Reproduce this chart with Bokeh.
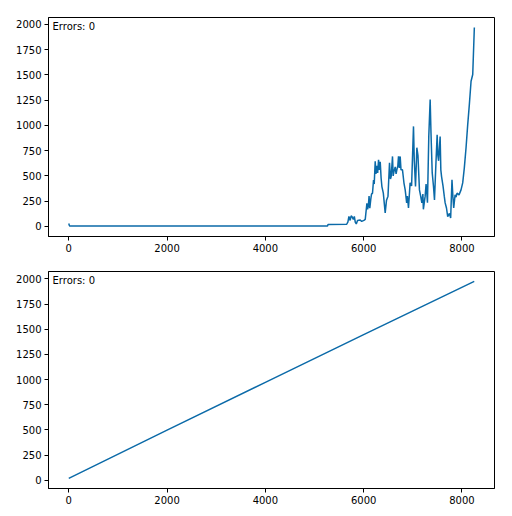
from bokeh.plotting import figure
from bokeh.layouts import column
from bokeh.models import Label, Range1d, FixedTicker
from bokeh.embed import file_html
from bokeh.resources import INLINE

# ---- data ----
top_x = [0, 15, 200, 5265, 5275, 5655, 5680, 5700, 5725, 5745, 5765, 5790, 5810, 5830,
         5850, 5875, 5930, 5960, 6005, 6032, 6066, 6080, 6095, 6110, 6125, 6145, 6160,
         6180, 6201, 6215, 6235, 6250, 6265, 6285, 6303, 6320, 6337, 6355, 6371, 6400,
         6438, 6465, 6495, 6526, 6545, 6560, 6587, 6600, 6615, 6642, 6660, 6675, 6695,
         6709, 6725, 6743, 6760, 6790, 6820, 6845, 6875, 6890, 6912, 6945, 6975, 7014,
         7030, 7055, 7070, 7082, 7105, 7135, 7160, 7184, 7205, 7215, 7251, 7270, 7285,
         7298, 7325, 7353, 7370, 7395, 7420, 7441, 7465, 7495, 7510, 7525, 7556, 7570,
         7585, 7615, 7640, 7658, 7685, 7710, 7745, 7770, 7797, 7815, 7832, 7860, 7880,
         7900, 7940, 7981, 8015, 8048, 8083, 8117, 8150, 8185, 8219, 8252]
top_y = [30, 6, 4, 5, 20, 22, 45, 100, 60, 105, 95, 70, 100, 40,
         25, 60, 65, 50, 60, 70, 230, 170, 200, 300, 180, 270, 320,
         330, 460, 420, 645, 520, 600, 530, 660, 560, 640, 480, 395, 330,
         134, 260, 300, 630, 470, 494, 693, 500, 540, 590, 520, 560, 600,
         693, 580, 693, 560, 560, 430, 362, 233, 300, 183, 431, 400, 990,
         650, 395, 600, 779, 700, 362, 300, 233, 320, 170, 300, 420, 330,
         235, 891, 1255, 925, 530, 400, 263, 560, 908, 700, 650, 890, 560,
         494, 400, 300, 233, 183, 97, 130, 84, 461, 300, 183, 313, 290,
         330, 313, 362, 431, 580, 779, 1007, 1205, 1436, 1503, 1968]

bottom_x = [0, 2000, 4000, 6000, 8250]
bottom_y = [18, 498, 972, 1446, 1975]

x_ticks = [0, 2000, 4000, 6000, 8000]
y_ticks = [0, 250, 500, 750, 1000, 1250, 1500, 1750, 2000]
annotation = "Errors: 0"

LINE_COLOR = "#0b6aa8"
FONT = "DejaVu Sans"
FS = "10px"


def make_fig(xs, ys, height, border_top, border_bottom, y_lo, y_hi):
    p = figure(width=504, height=height, output_backend="svg", toolbar_location=None,
               x_range=Range1d(-412, 8662), y_range=Range1d(y_lo, y_hi),
               min_border_left=48, min_border_right=10,
               min_border_top=border_top, min_border_bottom=border_bottom)
    p.line(xs, ys, line_color=LINE_COLOR, line_width=1.5)
    p.grid.visible = False
    p.outline_line_color = "black"
    p.outline_line_width = 1
    p.background_fill_color = "white"
    p.border_fill_color = "white"
    p.xaxis.ticker = FixedTicker(ticks=x_ticks)
    p.yaxis.ticker = FixedTicker(ticks=y_ticks)
    for ax in (p.xaxis[0], p.yaxis[0]):
        ax.axis_line_color = "black"
        ax.axis_line_width = 1
        ax.major_tick_line_color = "black"
        ax.major_tick_line_width = 1
        ax.major_tick_out = 4
        ax.major_tick_in = 0
        ax.minor_tick_line_color = None
        ax.major_label_text_font = FONT
        ax.major_label_text_font_size = FS
        ax.major_label_text_color = "black"
        ax.major_label_standoff = 3
    lab = Label(x=4, y=0, x_units="screen", y_units="screen", text=annotation,
                text_font=FONT, text_font_size=FS, text_color="black",
                text_baseline="top", text_align="left")
    lab.y = (height - border_top - border_bottom) - 3
    p.add_layout(lab)
    return p


p1 = make_fig(top_x, top_y, 263, 17, 27, -99, 2067)
p2 = make_fig(bottom_x, bottom_y, 245, 8, 20, -82, 2073)

layout = column(p1, p2, spacing=0)
open("out.html", "w").write(file_html(layout, INLINE))
